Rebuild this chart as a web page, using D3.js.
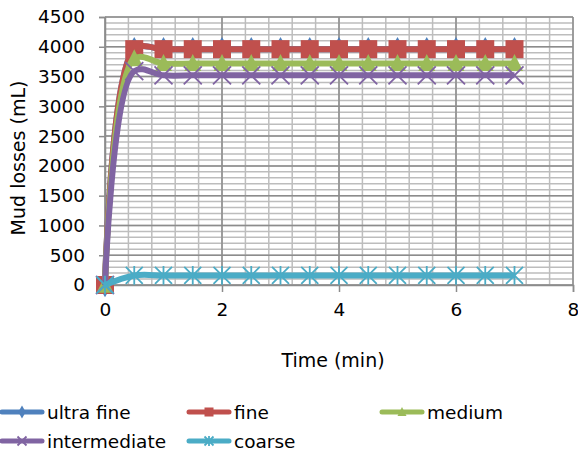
<!DOCTYPE html>
<html>
<head>
<meta charset="utf-8">
<script src="https://cdn.jsdelivr.net/npm/d3@7"></script>
<style>
  body { margin: 0; background: #fff; }
  svg { display: block; font-family: "DejaVu Sans", sans-serif; }
</style>
</head>
<body>
<svg width="578" height="454"></svg>
<script>
var times = [0, 0.5, 1, 1.5, 2, 2.5, 3, 3.5, 4, 4.5, 5, 5.5, 6, 6.5, 7];
var ultraFine    = [0, 3960, 3960, 3960, 3960, 3960, 3960, 3960, 3960, 3960, 3960, 3960, 3960, 3960, 3960];
var fine         = [0, 3960, 3960, 3960, 3960, 3960, 3960, 3960, 3960, 3960, 3960, 3960, 3960, 3960, 3960];
var medium       = [0, 3800, 3720, 3720, 3720, 3720, 3720, 3720, 3720, 3720, 3720, 3720, 3720, 3720, 3720];
var intermediate = [0, 3590, 3520, 3520, 3520, 3520, 3520, 3520, 3520, 3520, 3520, 3520, 3520, 3520, 3520];
var coarse       = [0, 160, 160, 160, 160, 160, 160, 160, 160, 160, 160, 160, 160, 160, 160];
var xTicks = [0, 2, 4, 6, 8];
var yTicks = [0, 500, 1000, 1500, 2000, 2500, 3000, 3500, 4000, 4500];

var series = [
  {name: 'ultra fine', values: ultraFine, color: '#4F81BD', marker: 'diamond'},
  {name: 'fine', values: fine, color: '#C0504D', marker: 'square'},
  {name: 'medium', values: medium, color: '#9BBB59', marker: 'triangle'},
  {name: 'intermediate', values: intermediate, color: '#8064A2', marker: 'cross'},
  {name: 'coarse', values: coarse, color: '#4BACC6', marker: 'star'}
];

var svg = d3.select('svg');
var x = d3.scaleLinear().domain([0, 8]).range([105, 573]);
var y = d3.scaleLinear().domain([0, 4500]).range([285, 17]);

// minor grid
var grid = svg.append('g');
grid.selectAll('.vmin').data(d3.range(0, 8.001, 0.4)).enter().append('line')
  .attr('x1', function(d){ return x(d) }).attr('x2', function(d){ return x(d) })
  .attr('y1', y(0)).attr('y2', y(4500))
  .attr('stroke', '#bdbdbd').attr('stroke-width', 1.5);
grid.selectAll('.hmin').data(d3.range(0, 4501, 100)).enter().append('line')
  .attr('x1', x(0)).attr('x2', x(8))
  .attr('y1', function(d){ return y(d) }).attr('y2', function(d){ return y(d) })
  .attr('stroke', '#bdbdbd').attr('stroke-width', 1.5);
// major grid
grid.selectAll('.vmaj').data(xTicks).enter().append('line')
  .attr('x1', function(d){ return x(d) }).attr('x2', function(d){ return x(d) })
  .attr('y1', y(0)).attr('y2', y(4500))
  .attr('stroke', '#8c8c8c').attr('stroke-width', 1.5);
grid.selectAll('.hmaj').data(yTicks).enter().append('line')
  .attr('x1', x(0)).attr('x2', x(8))
  .attr('y1', function(d){ return y(d) }).attr('y2', function(d){ return y(d) })
  .attr('stroke', '#8c8c8c').attr('stroke-width', 1.5);

// axes
var yAxis = svg.append('g').attr('transform', 'translate(' + x(0) + ',0)')
  .call(d3.axisLeft(y).tickValues(yTicks).tickFormat(d3.format('d')).tickSize(6).tickPadding(14));
var xAxis = svg.append('g').attr('transform', 'translate(0,' + y(0) + ')')
  .call(d3.axisBottom(x).tickValues(xTicks).tickFormat(d3.format('d')).tickSize(7).tickPadding(11));
[xAxis, yAxis].forEach(function(a){
  a.select('.domain').attr('stroke', '#8c8c8c').attr('stroke-width', 1.5);
  a.selectAll('.tick line').attr('stroke', '#8c8c8c').attr('stroke-width', 1.5);
  a.selectAll('text').attr('font-size', 18.5).attr('fill', '#000')
    .attr('font-family', '"DejaVu Sans", sans-serif');
});

svg.append('text').attr('transform', 'translate(25,158) rotate(-90)')
  .attr('text-anchor', 'middle').attr('font-size', 19).text('Mud losses (mL)');
svg.append('text').attr('x', 333).attr('y', 367)
  .attr('text-anchor', 'middle').attr('font-size', 19).text('Time (min)');

function drawMarker(g, type, color, s){
  if (type === 'diamond') {
    g.append('path').attr('d', d3.symbol(d3.symbolDiamond, s * s * 0.6)()).attr('fill', color);
  } else if (type === 'square') {
    g.append('rect').attr('x', -s / 2).attr('y', -s / 2).attr('width', s).attr('height', s).attr('fill', color);
  } else if (type === 'triangle') {
    g.append('path').attr('d', 'M0,' + (-s * 0.55) + 'L' + (s * 0.5) + ',' + (s * 0.45) + 'L' + (-s * 0.5) + ',' + (s * 0.45) + 'Z').attr('fill', color);
  } else if (type === 'cross') {
    var h = s / 2;
    g.append('path').attr('d', 'M' + -h + ',' + -h + 'L' + h + ',' + h + 'M' + h + ',' + -h + 'L' + -h + ',' + h)
      .attr('stroke', color).attr('stroke-width', 1.8).attr('fill', 'none');
  } else if (type === 'star') {
    var h = s / 2;
    g.append('path').attr('d', 'M' + -h + ',' + -h + 'L' + h + ',' + h + 'M' + h + ',' + -h + 'L' + -h + ',' + h + 'M0,' + -h * 1.1 + 'L0,' + h * 1.1)
      .attr('stroke', color).attr('stroke-width', 1.8).attr('fill', 'none');
  }
}

var sizes = {diamond: 17, square: 18, triangle: 17, cross: 18, star: 17};

var line = d3.line()
  .x(function(d){ return x(d[0]) })
  .y(function(d){ return y(d[1]) })
  .curve(d3.curveCatmullRom.alpha(0.5));

series.forEach(function(s){
  var pts = times.map(function(t, i){ return [t, s.values[i]] });
  svg.append('path').datum(pts).attr('d', line)
    .attr('fill', 'none').attr('stroke', s.color).attr('stroke-width', 6)
    .attr('stroke-linejoin', 'round');
  svg.selectAll(null).data(pts).enter().append('g')
    .attr('transform', function(d){ return 'translate(' + x(d[0]) + ',' + y(d[1]) + ')' })
    .each(function(){ drawMarker(d3.select(this), s.marker, s.color, sizes[s.marker]) });
});

// legend
var legendPos = [[0, 412], [187, 412], [380, 412], [0, 441], [187, 441]];
series.forEach(function(s, i){
  var p = legendPos[i];
  var g = svg.append('g').attr('transform', 'translate(' + p[0] + ',' + p[1] + ')');
  g.append('line').attr('x1', 2).attr('x2', 42).attr('y1', 0).attr('y2', 0)
    .attr('stroke', s.color).attr('stroke-width', 5).attr('stroke-linecap', 'round');
  drawMarker(g.append('g').attr('transform', 'translate(22,0)'), s.marker, s.color, 9);
  g.append('text').attr('x', 47).attr('y', 7).attr('font-size', 18.5).text(s.name);
});
</script>
</body>
</html>
